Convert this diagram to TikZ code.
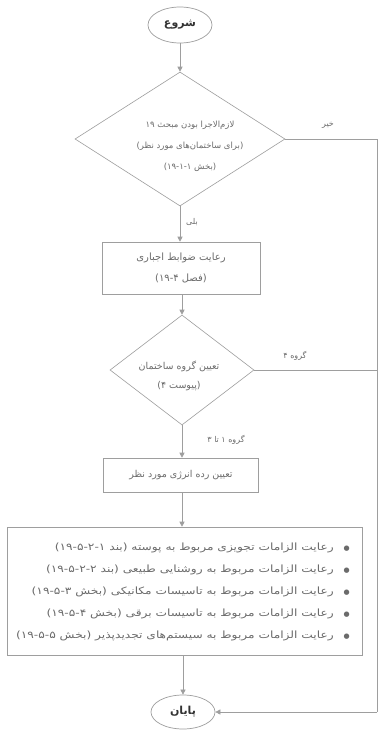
\documentclass[tikz,border=0pt]{standalone}
\usepackage{fontspec}
\usetikzlibrary{shapes.geometric,arrows.meta}
\newfontfamily\pfont[Script=Arabic]{DejaVu Sans}
\newfontfamily\pfontw[Script=Arabic,FakeStretch=1.22]{DejaVu Sans}
\TeXXeTstate=1
\definecolor{ln}{gray}{0.62}
\definecolor{tx}{gray}{0.42}
\newcommand{\bul}{{\pfont\fontsize{7}{7}\selectfont●}\quad}
\begin{document}
\begin{tikzpicture}[x=1pt,y=-1pt,
  line/.style={draw=ln, line width=0.6pt},
  arr/.style={line, -{Triangle[length=5pt,width=5pt]}},
  term/.style={ellipse, draw=ln, line width=0.7pt, minimum width=64pt, minimum height=36pt, inner sep=0pt, font=\pfont\bfseries\fontsize{11}{13}\selectfont, text=black!80},
  dec/.style={diamond, draw=ln, line width=0.6pt, inner sep=0pt},
  proc/.style={rectangle, draw=ln, line width=0.6pt, inner sep=0pt, align=center, text=tx},
  txt/.style={inner sep=0pt, align=center, text=tx},
  lbl/.style={font=\pfont\fontsize{8}{10}\selectfont, text=tx, inner sep=1pt},
]
\useasboundingbox (0,0) rectangle (380,731);
\fill[white] (0,0) rectangle (380,731);

\node[term] (start) at (180,25) {\beginR شروع\endR};

\node[dec, minimum width=210pt, minimum height=134pt] (d1) at (180,139) {};
\node[txt, font=\pfont\fontsize{8.5}{21}\selectfont] (d1t) at (190,146)
  {\beginR لازم‌الاجرا بودن مبحث ۱۹\endR\\\beginR(برای ساختمان‌های مورد نظر)\endR\\\beginR(بخش ۱۹-۱-۱)\endR};

\node[proc, minimum width=158pt, minimum height=52pt, font=\pfont\fontsize{10}{21}\selectfont] (b1) at (181,268)
  {\beginR رعایت ضوابط اجباری\endR\\\beginR(فصل ۱۹-۴)\endR};

\node[dec, minimum width=144pt, minimum height=110pt] (d2) at (182,370) {};
\node[txt, font=\pfont\fontsize{9.5}{19}\selectfont] (d2t) at (179,376)
  {\beginR تعیین گروه ساختمان\endR\\\beginR(پیوست ۴)\endR};

\node[proc, minimum width=155pt, minimum height=34pt, font=\pfont\fontsize{9.5}{12}\selectfont] (b2) at (181,475)
  {\beginR تعیین رده انرژی مورد نظر\endR};

\node[proc, minimum width=355pt, minimum height=128pt] (b3) at (184.5,591) {};
\node[txt, align=right, anchor=east, font=\pfontw\fontsize{10}{22}\selectfont] (b3t) at (350,592)
  {\beginR\bul رعایت الزامات تجویزی مربوط به پوسته (بند ۱۹-۵-۲-۱)\endR\\
   \beginR\bul رعایت الزامات مربوط به روشنایی طبیعی (بند ۱۹-۵-۲-۲)\endR\\
   \beginR\bul رعایت الزامات مربوط به تاسیسات مکانیکی (بخش ۱۹-۵-۳)\endR\\
   \beginR\bul رعایت الزامات مربوط به تاسیسات برقی (بخش ۱۹-۵-۴)\endR\\
   \beginR\bul رعایت الزامات مربوط به سیستم‌های تجدیدپذیر (بخش ۱۹-۵-۵)\endR};

\node[term, minimum height=34pt] (end) at (183,712) {\beginR پایان\endR};

\coordinate (r1) at (377,139);
\coordinate (r2) at (377,370);
\coordinate (r3) at (377,712);

\draw[arr] (start) -- (d1.north);
\draw[arr] (d1.south) -- (b1.north -| d1.south);
\draw[arr] (b1.south -| d2.north) -- (d2.north);
\draw[arr] (d2.south) -- (b2.north -| d2.south);
\draw[arr] (b2.south -| d2.south) -- (b3.north -| d2.south);
\draw[arr] (b3.south -| end.north) -- (end.north);
\draw[line] (d1.east) -- (r1) -- (r3);
\draw[line] (d2.east) -- (r2);
\draw[arr] (r3) -- (end.east);

\node[lbl] (yes) at (192,222) {\beginR بلی\endR};
\node[lbl] (no) at (328,125) {\beginR خیر\endR};
\node[lbl] (g4) at (295,356) {\beginR گروه ۴\endR};
\node[lbl] (g13) at (226,440) {\beginR گروه ۱ تا ۳\endR};
\end{tikzpicture}
\end{document}
